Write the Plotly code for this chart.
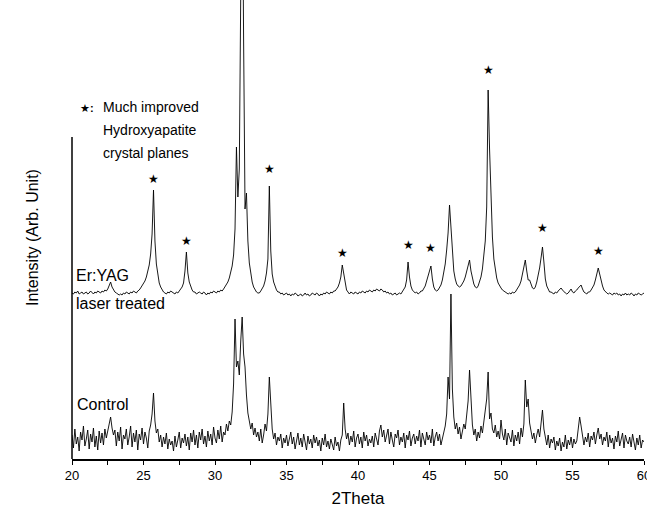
import plotly.graph_objects as go

# 2Theta grid, 20.0 .. 60.0 step 0.1 (tick labels)
x_start, x_step = 20.0, 0.1
x_ticks = [20, 25, 30, 35, 40, 45, 50, 55, 60]

# Control pattern (arbitrary units), rows = one degree each
control = [
    24, 11, 30, 15, 22, 8, 27, 19, 33, 13,
    20, 29, 10, 25, 17, 31, 12, 23, 9, 28,
    16, 26, 14, 30, 21, 28, 35, 42, 31, 24,
    29, 13, 27, 18, 32, 10, 24, 20, 30, 14,
    22, 33, 12, 26, 17, 29, 9, 25, 19, 31,
    15, 27, 21, 11, 28, 34, 45, 66, 38, 26,
    30, 17, 24, 12, 22, 15, 26, 10, 20, 14,
    18, 8, 23, 12, 19, 27, 11, 21, 16, 25,
    13, 22, 9, 26, 17, 29, 14, 24, 11, 27,
    19, 30, 15, 23, 12, 28, 18, 25, 14, 32,
    21, 16, 29, 20, 33, 17, 27, 24, 35, 28,
    38, 34, 47, 75, 140, 92, 98, 84, 118, 142,
    105, 92, 64, 46, 38, 30, 36, 24, 31, 22,
    27, 18, 30, 16, 24, 35, 28, 45, 82, 50,
    30, 20, 26, 14, 22, 18, 25, 11, 21, 16,
    24, 13, 20, 27, 15, 22, 10, 19, 26, 14,
    21, 12, 25, 17, 9, 23, 15, 20, 11, 24,
    16, 22, 13, 19, 8, 21, 14, 25, 12, 18,
    10, 20, 15, 9, 22, 13, 17, 8, 19, 24,
    56, 30, 20, 26, 14, 23, 17, 28, 12, 21,
    25, 15, 22, 11, 27, 18, 24, 13, 20, 16,
    23, 12, 26, 19, 14, 28, 34, 22, 29, 17,
    24, 30, 15, 27, 19, 12, 25, 21, 29, 14,
    22, 17, 26, 11, 24, 19, 28, 13, 21, 25,
    15, 23, 18, 29, 12, 26, 20, 14, 27, 19,
    24, 16, 30, 13, 22, 27, 18, 25, 14, 21,
    28, 33, 45, 82, 60, 165, 70, 42, 30, 36,
    25, 32, 20, 29, 35, 30, 42, 58, 89, 52,
    34, 24, 30, 18, 27, 21, 33, 26, 38, 48,
    60, 87, 40, 46, 30, 26, 34, 22, 28, 20,
    39, 25, 19, 30, 14, 26, 21, 17, 29, 13,
    24, 18, 27, 15, 31, 22, 35, 79, 52, 60,
    36, 28, 20, 26, 16, 24, 30, 22, 35, 49,
    30, 21, 14, 24, 11, 20, 16, 22, 9, 18,
    13, 21, 8, 17, 12, 24, 10, 19, 14, 22,
    11, 20, 15, 18, 28, 42, 33, 25, 14, 22,
    17, 26, 12, 23, 19, 27, 15, 24, 31, 20,
    25, 14, 22, 18, 27, 12, 24, 16, 21, 10,
    23, 17, 28, 13, 20, 26, 11, 24, 18, 15,
    22, 12, 25, 16, 9, 21, 14, 24, 11, 19,
    17,
]

# Er:YAG laser treated pattern (arbitrary units, already offset upward)
treated = [
    166, 165, 167, 166, 168, 165, 166, 167, 165, 166,
    167, 165, 166, 168, 166, 165, 167, 166, 168, 167,
    166, 168, 167, 169, 168, 170, 173, 177, 172, 169,
    167, 166, 165, 164, 165, 164, 166, 165, 167, 166,
    165, 167, 166, 168, 167, 166, 168, 169, 171, 173,
    175, 178, 182, 187, 194, 205, 225, 269, 218, 195,
    183, 176, 172, 169, 167, 166, 165, 167, 166, 168,
    167, 166, 165, 167, 166, 168, 170, 172, 176, 188,
    207, 186, 177, 172, 169, 167, 167, 165, 166, 167,
    166, 165, 167, 166, 164, 166, 165, 167, 166, 168,
    167, 166, 168, 167, 169, 168, 170, 172, 174, 177,
    181, 186, 193, 204, 230, 312, 262, 290, 410, 640,
    420, 250, 266, 218, 196, 184, 177, 172, 169, 167,
    166, 166, 168, 170, 173, 178, 186, 200, 273, 208,
    185, 177, 172, 169, 167, 167, 165, 166, 164, 165,
    166, 164, 165, 163, 165, 164, 166, 165, 163, 164,
    165, 163, 164, 166, 164, 165, 163, 164, 166, 165,
    164, 166, 165, 163, 165, 164, 166, 165, 167, 166,
    165, 167, 166, 168, 168, 170, 172, 176, 182, 194,
    184, 174, 169, 167, 165, 167, 166, 165, 167, 166,
    165, 167, 166, 168, 167, 166, 168, 167, 169, 168,
    167, 169, 168, 170, 169, 168, 170, 169, 167, 168,
    166, 167, 165, 166, 164, 165, 166, 164, 165, 166,
    165, 167, 169, 172, 179, 197, 182, 173, 169, 167,
    166, 167, 165, 166, 168, 168, 170, 173, 178, 184,
    189, 193, 180, 172, 169, 168, 169, 171, 174, 179,
    186, 195, 209, 226, 254, 229, 202, 188, 180, 175,
    173, 172, 173, 175, 178, 182, 187, 194, 199, 188,
    180, 175, 172, 171, 173, 177, 182, 190, 202, 218,
    252, 369, 310, 255, 222, 200, 188, 181, 176, 173,
    171, 169, 168, 167, 166, 165, 166, 165, 167, 166,
    167, 169, 171, 174, 178, 184, 192, 199, 188, 179,
    179, 174, 171, 170, 172, 177, 183, 191, 201, 212,
    197, 180, 173, 169, 167, 167, 166, 165, 167, 166,
    168, 170, 171, 169, 167, 166, 165, 166, 168, 170,
    167, 166, 168, 169, 171, 173, 174, 170, 167, 166,
    165, 167, 167, 169, 171, 174, 179, 186, 191, 185,
    178, 173, 169, 167, 166, 165, 166, 165, 164, 166,
    165, 166, 164, 165, 163, 165, 164, 166, 164, 165,
    164, 166, 165, 163, 165, 164, 166, 165, 164, 165,
    166,
]

# Improved hydroxyapatite planes (star markers)
star_x = [25.7, 28.0, 33.8, 38.9, 43.5, 45.1, 49.1, 52.9, 56.8]
star_y = [280, 218, 290, 206, 214, 211, 389, 231, 208]

two_theta = [round(x_start + i * x_step, 1) for i in range(len(control))]

fig = go.Figure()
fig.add_trace(go.Scatter(x=two_theta, y=control, mode="lines",
                         line=dict(color="black", width=0.9), showlegend=False))
fig.add_trace(go.Scatter(x=two_theta, y=treated, mode="lines",
                         line=dict(color="black", width=0.9), showlegend=False))

W, H = 647, 515
L, R, T, B = 72, 3, 0, 56
pw, ph = W - L - R, H - T - B
YMAX = 459.0
FONT = "Arial, Liberation Sans, sans-serif"


def px(xp):
    return (xp - L) / pw


def py(yp):
    return (H - B - yp) / ph


ann = []
for sx, sy in zip(star_x, star_y):
    ann.append(dict(x=sx, y=sy, xref="x", yref="y", text="★", showarrow=False,
                    font=dict(size=12, color="black", family="DejaVu Sans")))

texts = [
    ("Er:YAG", 74, 275, 16),
    ("laser treated", 74, 303, 16),
    ("Control", 75, 404, 16),
    ("Much improved", 101, 107, 14),
    ("Hydroxyapatite", 101, 130, 14),
    ("crystal planes", 101, 153, 14),
]
for t, xp, yp, fs in texts:
    ann.append(dict(x=px(xp), y=py(yp), xref="paper", yref="paper", text=t,
                    showarrow=False, xanchor="left", yanchor="middle",
                    font=dict(size=fs, color="black", family=FONT)))

# legend key "★:" as a single text
ann.append(dict(x=px(79), y=py(109), xref="paper", yref="paper",
                text="★<span style='font-family:Arial, Liberation Sans'><b>:</b></span>",
                showarrow=False, borderpad=0, xanchor="left", yanchor="middle",
                font=dict(size=11, color="black", family="DejaVu Sans")))
ann.append(dict(x=px(22), y=py(308), xref="paper", yref="paper",
                text="Intensity (Arb. Unit)", textangle=-90, showarrow=False,
                font=dict(size=16, color="black", family=FONT)))

fig.update_layout(
    width=W, height=H,
    margin=dict(l=L, r=R, t=T, b=B, autoexpand=False),
    paper_bgcolor="white", plot_bgcolor="white",
    annotations=ann,
    shapes=[dict(type="line", xref="paper", yref="y", x0=0, x1=0, y0=0, y1=322,
                 line=dict(color="black", width=1.5))],
    font=dict(family=FONT, color="black"),
)
fig.update_xaxes(range=[20, 60], tickvals=x_ticks, ticks="outside", ticklen=4,
                 tickwidth=1, tickcolor="black", showline=True, linecolor="black",
                 linewidth=1.5, showgrid=False, zeroline=False, automargin=False,
                 ticklabeloverflow="allow",
                 minor=dict(dtick=2.5, tick0=20, ticks="outside", ticklen=4,
                            tickcolor="black", showgrid=False),
                 tickfont=dict(size=13, family=FONT, color="black"),
                 title=dict(text="2Theta", font=dict(size=17, family=FONT, color="black"),
                            standoff=10))
fig.update_yaxes(range=[0, YMAX], visible=False, showgrid=False, zeroline=False,
                 automargin=False)

fig.write_html("out.html", config={"displayModeBar": False},
               post_script="document.body.style.margin='0';document.body.style.overflow='hidden';")
